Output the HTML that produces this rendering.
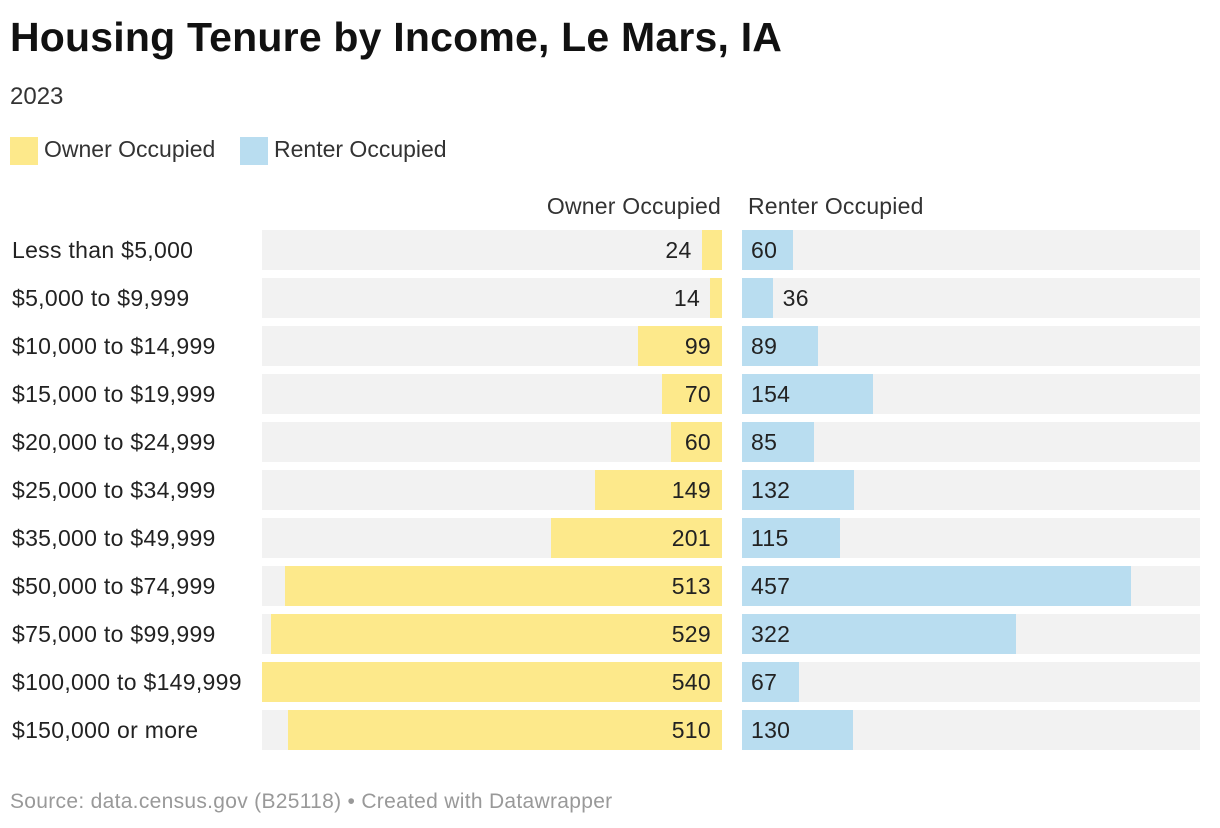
<!DOCTYPE html>
<html><head><meta charset="utf-8"><style>
body{margin:0;width:1220px;height:828px;background:#fff;font-family:"Liberation Sans",sans-serif;color:#222;position:relative;overflow:hidden}
.a{position:absolute;white-space:nowrap}
</style></head><body>
<div class="a" style="left:10px;top:14px;font-size:41px;font-weight:bold;color:#111;letter-spacing:0.2px">Housing Tenure by Income, Le Mars, IA</div>
<div class="a" style="left:10px;top:83px;font-size:24px;color:#333">2023</div>
<div class="a" style="left:10px;top:136px;font-size:23px;color:#333"><span style="display:inline-block;width:28px;height:28px;background:#fde98b;vertical-align:middle;margin-right:6px"></span>Owner Occupied</div>
<div class="a" style="left:240px;top:136px;font-size:23px;color:#333"><span style="display:inline-block;width:28px;height:28px;background:#b9ddf0;vertical-align:middle;margin-right:6px"></span>Renter Occupied</div>
<div class="a" style="left:422px;width:299px;text-align:right;top:193px;font-size:23px;color:#333;letter-spacing:0.2px">Owner Occupied</div>
<div class="a" style="left:748px;top:193px;font-size:23px;color:#333;letter-spacing:0.2px">Renter Occupied</div>
<div id="chart"></div>
<div class="a" style="left:10px;top:790px;font-size:21px;color:#999;letter-spacing:0.3px">Source: data.census.gov (B25118) • Created with Datawrapper</div>
<script>
const categories=["Less than $5,000","$5,000 to $9,999","$10,000 to $14,999","$15,000 to $19,999","$20,000 to $24,999","$25,000 to $34,999","$35,000 to $49,999","$50,000 to $74,999","$75,000 to $99,999","$100,000 to $149,999","$150,000 or more"];
const ownerValues=[24,14,99,70,60,149,201,513,529,540,510];
const renterValues=[60,36,89,154,85,132,115,457,322,67,130];
const maxV=540;
const scale=v=>v/maxV*460;
const rowY=i=>230+i*48;
const c=document.getElementById('chart');
const fs='font-size:23px;line-height:28px;letter-spacing:0.3px';
function div(css,txt){const d=document.createElement('div');d.className='a';d.style.cssText=css;if(txt!=null)d.textContent=txt;c.appendChild(d);return d;}
categories.forEach((cat,i)=>{
 const y=rowY(i);
 const bo=div(`left:262px;top:${y}px;width:460px;height:40px;background:#f2f2f2`);
 
 
 const br=div(`left:742px;top:${y}px;width:458px;height:40px;background:#f2f2f2`);
 
 
 const l=div(`left:12px;top:${y+6}px;${fs};color:#222`,cat);
 
 
 const ow=scale(ownerValues[i]);
 const b1=div(`left:${722-ow}px;top:${y}px;width:${ow}px;height:40px;background:#fde98b`);
 
 
 const ol=div(`left:0;width:${ow>40?711:722-ow-10}px;text-align:right;top:${y+6}px;${fs}`,ownerValues[i]);
 
 
 const rw=scale(renterValues[i]);
 const b2=div(`left:742px;top:${y}px;width:${rw}px;height:40px;background:#b9ddf0`);
 
 
 const rl=div(`left:${rw>40?751:742+rw+10}px;top:${y+6}px;${fs}`,renterValues[i]);
 
 
});
</script>
</body></html>
